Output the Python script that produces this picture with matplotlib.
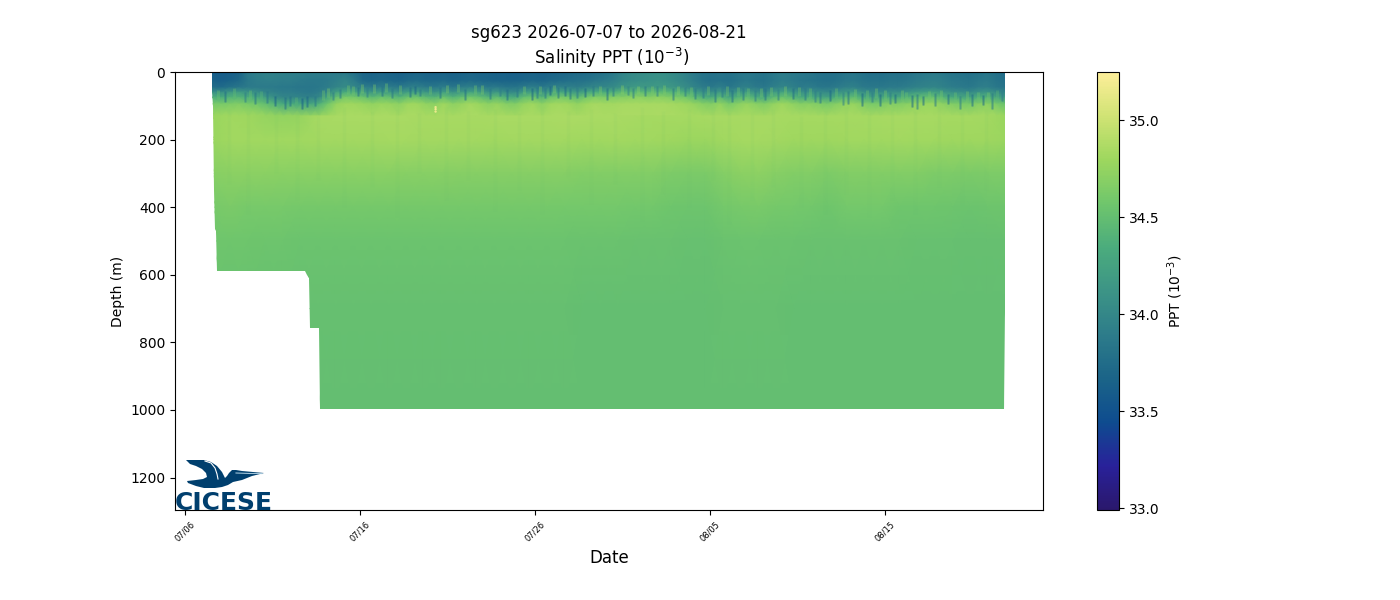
import datetime as dt
import numpy as np
import matplotlib
matplotlib.use("Agg")
import matplotlib.pyplot as plt
import matplotlib.dates as mdates
from matplotlib.colors import LinearSegmentedColormap, Normalize
from matplotlib.patches import Polygon

# days since 07/06, one column per half day for the upper ocean
start_day = 1.54
end_day = 46.86
start_date = dt.datetime(2026, 7, 6)

upper_depths = [0, 25, 45, 60, 75, 95, 130]
sal_0m = [33.62,33.60,33.62,33.66,33.88,33.92,33.95,33.94,33.93,33.92,
          33.92,33.90,33.90,33.90,33.88,33.86,33.78,33.68,33.66,33.68,
          33.66,33.64,33.66,33.68,33.66,33.64,33.66,33.64,33.66,33.68,
          33.66,33.66,33.64,33.64,33.62,33.64,33.66,33.64,33.66,33.68,
          33.70,33.72,33.74,33.76,33.80,33.86,33.96,34.02,34.04,34.06,
          34.08,34.06,34.02,33.96,33.88,33.82,33.80,33.82,33.80,33.84,
          33.86,33.84,33.82,33.86,33.90,33.88,33.86,33.84,33.80,33.78,
          33.78,33.82,33.84,33.80,33.76,33.76,33.78,33.78,33.80,33.84,
          33.86,33.88,33.86,33.82,33.80,33.78,33.80,33.84,33.78,33.74]
sal_25m = [33.66,33.62,33.66,33.72,33.86,33.90,33.92,33.92,33.90,33.90,
           33.88,33.86,33.86,33.88,33.92,33.98,33.88,33.72,33.70,33.72,
           33.70,33.68,33.72,33.74,33.70,33.70,33.72,33.68,33.70,33.72,
           33.70,33.68,33.66,33.66,33.66,33.68,33.70,33.68,33.72,33.74,
           33.76,33.78,33.80,33.84,33.88,33.92,34.00,34.04,34.06,34.08,
           34.10,34.08,34.04,33.98,33.90,33.82,33.78,33.80,33.78,33.82,
           33.86,33.82,33.80,33.86,33.90,33.88,33.84,33.82,33.80,33.78,
           33.80,33.84,33.86,33.82,33.80,33.80,33.82,33.82,33.84,33.88,
           33.90,33.92,33.90,33.86,33.84,33.82,33.86,33.88,33.82,33.78]
sal_45m = [33.76,33.74,33.80,33.84,33.88,33.88,33.88,33.88,33.86,33.86,
           33.84,33.84,33.86,33.90,33.98,34.04,34.00,33.92,33.88,33.92,
           33.90,33.86,33.92,33.94,33.88,33.86,33.92,33.86,33.90,33.94,
           33.90,33.86,33.88,33.82,33.82,33.88,33.92,33.86,33.92,33.96,
           33.94,33.90,33.96,34.00,34.00,34.04,34.12,34.16,34.18,34.16,
           34.18,34.16,34.12,34.06,33.98,33.90,33.86,33.92,33.84,33.90,
           33.94,33.88,33.86,33.92,33.98,33.94,33.88,33.90,33.86,33.84,
           33.88,33.92,33.94,33.88,33.86,33.86,33.88,33.88,33.90,33.94,
           33.96,33.98,33.94,33.90,33.88,33.86,33.90,33.92,33.86,33.82]
sal_60m = [34.10,34.06,34.16,34.20,34.12,34.08,33.98,33.94,33.90,33.90,
           33.88,33.86,33.90,34.02,34.24,34.34,34.30,34.22,34.14,34.22,
           34.18,34.10,34.22,34.24,34.14,34.10,34.22,34.10,34.18,34.26,
           34.20,34.10,34.16,34.04,34.02,34.18,34.24,34.10,34.24,34.30,
           34.26,34.16,34.30,34.36,34.34,34.38,34.44,34.46,34.48,34.46,
           34.48,34.46,34.42,34.36,34.24,34.12,34.06,34.18,34.02,34.14,
           34.20,34.10,34.04,34.18,34.26,34.20,34.08,34.12,34.06,34.02,
           34.08,34.16,34.20,34.08,34.02,34.04,34.08,34.06,34.12,34.18,
           34.22,34.24,34.16,34.08,34.06,34.02,34.10,34.14,34.04,33.98]
sal_75m = [34.38,34.34,34.40,34.42,34.36,34.32,34.20,34.06,33.98,33.98,
           33.96,33.94,34.00,34.28,34.52,34.62,34.60,34.54,34.46,34.54,
           34.50,34.42,34.54,34.56,34.46,34.42,34.54,34.42,34.50,34.58,
           34.52,34.42,34.48,34.36,34.32,34.50,34.56,34.42,34.56,34.62,
           34.58,34.48,34.60,34.66,34.64,34.66,34.68,34.70,34.72,34.68,
           34.72,34.68,34.64,34.60,34.50,34.38,34.32,34.46,34.26,34.40,
           34.48,34.36,34.30,34.44,34.54,34.46,34.32,34.36,34.28,34.24,
           34.34,34.44,34.48,34.34,34.26,34.28,34.34,34.30,34.38,34.46,
           34.50,34.52,34.42,34.32,34.30,34.26,34.36,34.40,34.28,34.18]
sal_95m = [34.62,34.62,34.64,34.66,34.62,34.58,34.50,34.42,34.32,34.34,
           34.30,34.28,34.38,34.58,34.76,34.80,34.80,34.78,34.74,34.78,
           34.76,34.72,34.80,34.80,34.74,34.72,34.80,34.72,34.76,34.82,
           34.78,34.72,34.76,34.68,34.66,34.76,34.80,34.72,34.80,34.82,
           34.80,34.74,34.80,34.84,34.82,34.82,34.84,34.84,34.84,34.84,
           34.84,34.84,34.82,34.80,34.76,34.70,34.66,34.74,34.62,34.70,
           34.76,34.70,34.66,34.74,34.80,34.74,34.68,34.70,34.66,34.62,
           34.68,34.74,34.76,34.68,34.62,34.64,34.68,34.66,34.70,34.74,
           34.78,34.78,34.72,34.66,34.64,34.62,34.68,34.72,34.62,34.54]
sal_130m = [34.78,34.80,34.81,34.81,34.80,34.80,34.78,34.76,34.74,34.76,
            34.74,34.74,34.76,34.80,34.84,34.85,34.85,34.85,34.84,34.86,
            34.85,34.83,34.86,34.85,34.84,34.83,34.85,34.83,34.85,34.86,
            34.85,34.83,34.84,34.83,34.82,34.84,34.85,34.83,34.85,34.86,
            34.85,34.84,34.85,34.86,34.85,34.85,34.86,34.86,34.86,34.85,
            34.86,34.85,34.85,34.84,34.84,34.83,34.82,34.84,34.82,34.83,
            34.84,34.83,34.82,34.84,34.85,34.84,34.83,34.83,34.82,34.82,
            34.83,34.84,34.84,34.83,34.82,34.82,34.83,34.83,34.84,34.84,
            34.84,34.84,34.84,34.83,34.82,34.82,34.83,34.83,34.82,34.78]

# below 130 m the field is smoother, one column per day
deep_depths = [130, 200, 300, 400, 500, 700, 1000]
sal_130d = [34.78,34.81,34.80,34.76,34.74,34.76,34.84,34.85,34.85,34.85,
            34.85,34.85,34.84,34.84,34.84,34.84,34.85,34.85,34.85,34.85,
            34.86,34.86,34.85,34.85,34.84,34.83,34.83,34.83,34.84,34.84,
            34.84,34.84,34.84,34.83,34.83,34.83,34.83,34.83,34.84,34.84,
            34.84,34.84,34.83,34.83,34.82,34.78]
sal_200 = [34.78,34.81,34.81,34.81,34.81,34.81,34.82,34.82,34.82,34.82,
           34.83,34.83,34.82,34.82,34.82,34.82,34.81,34.82,34.82,34.82,
           34.82,34.81,34.81,34.82,34.81,34.81,34.80,34.79,34.79,34.81,
           34.83,34.83,34.82,34.80,34.80,34.80,34.81,34.81,34.81,34.82,
           34.81,34.81,34.80,34.80,34.80,34.79]
sal_300 = [34.69,34.71,34.71,34.71,34.70,34.70,34.70,34.70,34.70,34.70,
           34.70,34.69,34.69,34.69,34.68,34.68,34.68,34.68,34.68,34.68,
           34.68,34.66,34.66,34.66,34.66,34.66,34.64,34.63,34.63,34.67,
           34.71,34.72,34.69,34.66,34.66,34.64,34.66,34.66,34.66,34.66,
           34.66,34.64,34.64,34.63,34.64,34.64]
sal_400 = [34.61,34.63,34.61,34.61,34.61,34.60,34.60,34.60,34.60,34.60,
           34.60,34.60,34.60,34.60,34.60,34.60,34.60,34.60,34.60,34.60,
           34.59,34.59,34.59,34.59,34.58,34.58,34.57,34.56,34.56,34.59,
           34.61,34.62,34.60,34.59,34.58,34.57,34.59,34.59,34.59,34.57,
           34.57,34.57,34.56,34.55,34.56,34.57]
sal_500 = [34.57,34.57,34.57,34.56,34.56,34.55,34.55,34.55,34.55,34.55,
           34.55,34.55,34.55,34.55,34.55,34.55,34.55,34.55,34.55,34.55,
           34.55,34.54,34.54,34.54,34.53,34.53,34.53,34.52,34.52,34.54,
           34.55,34.55,34.54,34.54,34.53,34.53,34.53,34.53,34.53,34.53,
           34.52,34.52,34.52,34.51,34.51,34.52]
sal_700 = [34.52,34.52,34.52,34.51,34.51,34.51,34.51,34.51,34.51,34.51,
           34.51,34.51,34.51,34.51,34.51,34.51,34.51,34.51,34.51,34.51,
           34.51,34.50,34.50,34.50,34.50,34.50,34.50,34.50,34.50,34.51,
           34.51,34.51,34.51,34.50,34.50,34.50,34.50,34.50,34.50,34.50,
           34.50,34.50,34.50,34.50,34.50,34.50]
sal_1000 = [34.505] * 46

# fresh dive streaks that cut through the halocline (day, top, bottom)
dark_days = [2.29, 3.43, 4.0, 4.67, 5.14, 5.71, 6.0, 6.67, 6.97, 7.43, 8.46, 8.86, 9.89, 10.4, 11.26, 11.83,
             12.86, 13.14, 13.43, 14.57, 16.0, 17.43, 18.0, 18.4, 19.0, 19.83, 20.1, 20.57, 20.86, 21.31,
             21.71, 22.0, 22.4, 22.86, 23.3, 24.11, 24.46, 25.3, 25.6, 26.3, 27.0, 27.9, 28.57, 29.14,
             29.6, 30.3, 30.69, 31.26, 31.9, 32.57, 33.14, 33.9, 34.74, 35.43, 36.0, 36.3, 36.86, 37.6,
             37.9, 38.7, 39.26, 39.71, 40.3, 40.57, 41.54, 41.83, 42.17, 42.86, 43.6, 44.3, 45.0, 45.6,
             46.1, 46.7]
dark_tops = [55, 58, 60, 55, 70, 75, 72, 78, 70, 72, 58, 50, 44, 48, 42, 48, 45, 40, 50, 45, 50, 48, 45, 50,
             45, 48, 44, 46, 40, 45, 42, 48, 44, 48, 42, 46, 44, 42, 46, 40, 42, 46, 44, 48, 42, 50, 44, 52,
             46, 52, 48, 50, 46, 48, 52, 58, 52, 60, 55, 62, 58, 65, 60, 64, 68, 66, 70, 62, 66, 70, 64, 68,
             62, 55]
dark_bottoms = [90, 88, 95, 92, 102, 108, 100, 110, 104, 100, 82, 78, 70, 74, 72, 78, 74, 66, 72, 78, 82, 80,
                72, 84, 74, 84, 78, 76, 68, 78, 72, 80, 76, 74, 70, 82, 72, 68, 76, 72, 70, 82, 72, 80, 78, 88,
                74, 90, 82, 86, 84, 84, 80, 82, 88, 92, 86, 98, 94, 100, 88, 102, 96, 92, 104, 110, 98, 102,
                96, 108, 100, 98, 110, 85]
dark_sals = [33.75, 33.9, 33.8, 33.85, 33.6, 33.75, 33.8, 33.6, 33.7, 33.85, 33.9, 33.85, 33.75, 33.9, 33.8,
             33.85, 33.75, 33.65, 33.85, 33.8, 33.75, 33.85, 33.9, 33.75, 33.85, 33.65, 33.85, 33.85, 33.65,
             33.8, 33.7, 33.8, 33.9, 33.65, 33.85, 33.75, 33.9, 33.95, 33.9, 33.85, 33.95, 33.85, 33.9, 33.85,
             33.9, 33.8, 33.9, 33.8, 33.85, 33.9, 33.8, 33.9, 33.75, 33.85, 33.9, 33.85, 33.7, 33.95, 33.8,
             33.7, 33.9, 33.7, 33.9, 33.7, 33.7, 33.85, 33.7, 33.85, 33.75, 33.9, 33.75, 33.7, 33.85, 33.9]

# salty fingers reaching up between the dives
salty_days = [1.9, 2.8, 3.7, 4.35, 6.35, 7.9, 8.2, 9.3, 9.6, 10.1, 10.8, 11.5, 12.3, 14.0, 15.0, 15.6, 16.6,
              17.0, 19.4, 20.3, 21.1, 23.7, 25.0, 25.9, 26.7, 27.4, 28.2, 28.9, 29.9, 31.0, 31.6, 32.2, 32.9,
              33.5, 34.3, 35.1, 35.7, 37.2, 38.3, 39.0, 39.5, 40.0, 41.0, 41.2, 42.5, 43.2, 44.0, 44.7, 45.3,
              45.9, 46.4]
salty_tops = [52, 48, 52, 56, 74, 54, 48, 38, 40, 36, 36, 34, 38, 40, 38, 36, 38, 38, 40, 40, 38, 40, 38, 40,
              40, 38, 42, 44, 42, 42, 44, 48, 46, 44, 42, 44, 46, 46, 50, 52, 48, 52, 54, 58, 56, 54, 60, 56,
              58, 60, 52]
salty_bottoms = [80, 78, 80, 84, 94, 84, 74, 66, 68, 62, 62, 60, 64, 66, 62, 60, 64, 64, 64, 66, 62, 66, 64,
                 66, 66, 64, 68, 70, 68, 72, 72, 76, 74, 72, 72, 72, 76, 76, 82, 84, 78, 82, 86, 90, 88, 86,
                 92, 88, 90, 92, 84]
salty_sals = [34.55, 34.5, 34.55, 34.45, 34.45, 34.6, 34.65, 34.6, 34.6, 34.65, 34.65, 34.6, 34.6, 34.6, 34.65,
              34.6, 34.6, 34.65, 34.6, 34.6, 34.65, 34.65, 34.7, 34.7, 34.65, 34.65, 34.7, 34.6, 34.6, 34.6,
              34.55, 34.55, 34.6, 34.6, 34.65, 34.6, 34.55, 34.55, 34.6, 34.55, 34.6, 34.6, 34.6, 34.55, 34.6,
              34.6, 34.55, 34.6, 34.55, 34.6, 34.45]

# faint vertical banding in the thermocline
band_days = [2.5, 3.6, 5.2, 6.4, 7.6, 9.1, 10.7, 12.1, 13.4, 14.9, 16.2, 17.7, 19.1, 20.4, 21.9, 23.2, 24.6, 26.1,
             27.3, 28.8, 30.2, 31.1, 32.4, 33.6, 35.2, 36.6, 37.8, 39.1, 40.4, 41.7, 43.1, 44.4, 45.8]
band_tops = [110, 120, 115, 120, 110, 105, 115, 110, 120, 105, 115, 110, 120, 105, 115, 110, 120, 105, 115, 110,
             105, 120, 115, 110, 130, 115, 105, 120, 110, 115, 105, 120, 110]
band_bottoms = [330, 420, 300, 380, 320, 400, 340, 430, 300, 380, 320, 410, 350, 420, 310, 390, 330, 440, 360,
                400, 320, 450, 380, 340, 400, 420, 360, 430, 380, 420, 340, 400, 350]
band_sals = [34.55] * 33

# outline of where the glider actually sampled (day, max depth)
outline_days = [1.54, 1.54, 1.60, 1.66, 1.72, 1.77, 1.82, 6.86, 6.97, 7.09, 7.14, 7.66, 7.69, 46.80, 46.86, 46.86]
outline_depths = [0, 60, 100, 350, 465, 470, 590, 590, 600, 610, 757, 757, 997, 997, 700, 0]

spike_day = [14.32, 14.32, 14.32]
spike_depth = [104, 110, 117]
spike_sal = [35.15, 35.2, 35.15]

tick_days = [0, 10, 20, 30, 40]
haline = ["#2a186c", "#29219a", "#0e4c8f", "#1b6488", "#2d7c8a", "#3c9486",
          "#4bac7d", "#6fc66c", "#9dd75e", "#d0e374", "#fdee99"]

cmap = LinearSegmentedColormap.from_list("haline", haline)
norm = Normalize(32.99, 35.25)


def to_dates(days):
    base = mdates.date2num(start_date)
    return base + np.asarray(days, dtype=float)


fig = plt.figure(figsize=(14, 6), dpi=100)
ax = fig.add_axes([175 / 1400, 90 / 600, 868 / 1400, 438 / 600])

upper = np.array([sal_0m, sal_25m, sal_45m, sal_60m, sal_75m, sal_95m, sal_130m])
deep = np.array([sal_130d, sal_200, sal_300, sal_400, sal_500, sal_700, sal_1000])
upper_t = to_dates(np.linspace(start_day, end_day, upper.shape[1]))
deep_t = to_dates(np.linspace(start_day, end_day, deep.shape[1]))

mesh1 = ax.pcolormesh(upper_t, upper_depths, upper, cmap=cmap, norm=norm, shading="gouraud")
mesh2 = ax.pcolormesh(deep_t, deep_depths, deep, cmap=cmap, norm=norm, shading="gouraud")

outline = Polygon(np.column_stack([to_dates(outline_days), outline_depths]), closed=True,
                  transform=ax.transData, facecolor="none", edgecolor="none")
ax.add_patch(outline)
mesh1.set_clip_path(outline)
mesh2.set_clip_path(outline)

ax.vlines(to_dates(band_days), band_tops, band_bottoms, colors=cmap(norm(band_sals)), lw=2.5, alpha=0.06)
ax.vlines(to_dates(salty_days), salty_tops, salty_bottoms, colors=cmap(norm(salty_sals)), lw=2.2, alpha=0.35)
ax.vlines(to_dates(dark_days), dark_tops, dark_bottoms, colors=cmap(norm(dark_sals)), lw=2.0, alpha=0.3)
ax.vlines(to_dates(dark_days), dark_tops, dark_bottoms, colors=cmap(norm(dark_sals)), lw=0.8, alpha=0.35)

ax.scatter(to_dates(spike_day), spike_depth, c=spike_sal, cmap=cmap, norm=norm, s=3, linewidths=0)

ax.set_xlim(to_dates(-0.57), to_dates(49.03))
ax.set_ylim(1296, 0)
ax.set_xticks(to_dates(tick_days))
ax.xaxis.set_major_formatter(mdates.DateFormatter("%m/%d"))
ax.tick_params(axis="x", labelsize=6, labelrotation=45)
ax.set_xlabel("Date", fontsize=12)
ax.set_ylabel("Depth (m)")
ax.set_title("sg623 2026-07-07 to 2026-08-21\n Salinity PPT ($10^{-3}$)")

cax = fig.add_axes([1097 / 1400, 90 / 600, 22 / 1400, 438 / 600])
cbar = fig.colorbar(plt.cm.ScalarMappable(norm=norm, cmap=cmap), cax=cax)
cbar.set_ticks([33.0, 33.5, 34.0, 34.5, 35.0])
cbar.set_label("PPT ($10^{-3}$)")

# logo, drawn in figure pixels
logo = fig.add_axes([175 / 1400, 90 / 600, 100 / 1400, 52 / 600])
logo.set_xlim(175, 275)
logo.set_ylim(510, 458)
logo.axis("off")
logo.patch.set_alpha(0)
navy = "#003f6e"
bird = [(186, 460), (196, 460), (204, 460), (211, 462), (217, 466), (222, 472), (225, 478), (227, 476),
        (229, 473), (232, 470), (236, 470), (242, 471), (264, 473), (252, 476), (242, 480), (233, 482),
        (228, 485), (222, 487), (215, 488), (204, 488), (196, 486), (188, 483), (187, 481), (196, 480),
        (203, 479), (207, 477), (206, 473), (202, 469), (196, 466), (190, 464)]
logo.add_patch(Polygon(bird, closed=True, facecolor=navy, edgecolor="none"))
logo.plot([205, 211, 215, 217, 218], [461, 463, 468, 474, 479], color="white", lw=0.8)
logo.plot([236, 250, 262], [473, 473.5, 473.5], color="#9fc3d8", lw=0.8)
logo.text(174.5, 510, "CICESE", color=navy, fontsize=18, fontweight="bold",
          family="DejaVu Sans", ha="left", va="baseline")

fig.savefig("out.png", dpi=100)
